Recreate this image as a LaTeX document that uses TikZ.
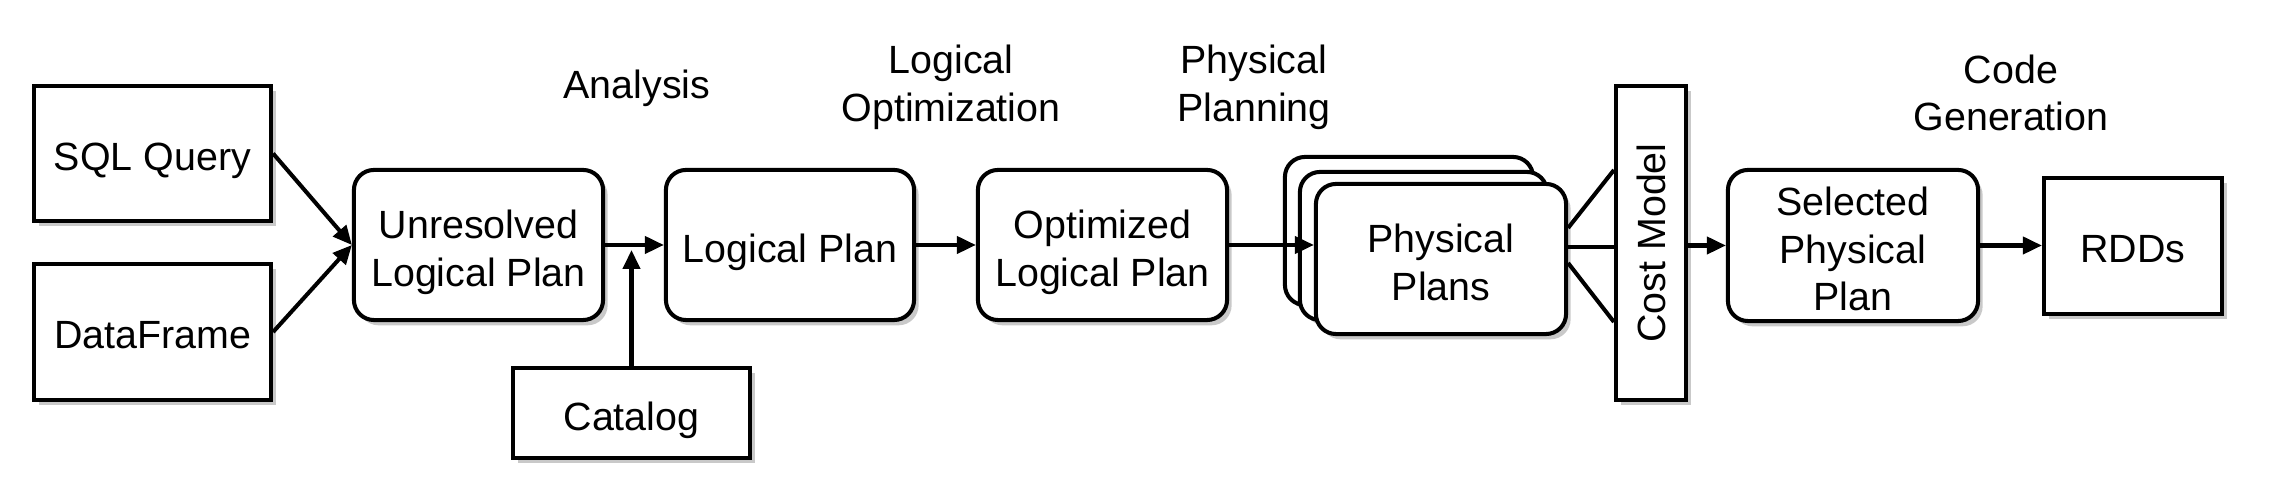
\documentclass[tikz,border=0pt]{standalone}
\usepackage{fontspec}
\setmainfont{Liberation Sans}
\usetikzlibrary{arrows.meta,shadows,calc}
\tikzset{
  base/.style={draw, line width=1.15pt, fill=white, inner sep=0pt,
    drop shadow={shadow xshift=1.3pt, shadow yshift=-1.5pt, opacity=0.3, fill=black!70}},
  sqbox/.style={base},
  rbox/.style={base, rounded corners=0.2cm},
  boxtext/.style={label={[lbl, yshift=-0.07cm]center:{#1}}},
  boxtextn/.style={label={[lbl, yshift=-0.035cm]center:{#1}}},
  arr/.style={line width=1.15pt, -{Triangle[length=0.19cm,width=0.17cm]}},
  ln/.style={line width=1.15pt},
  lbl/.style={align=center}
}
\begin{document}
\begin{tikzpicture}[x=0.01cm, y=-0.01cm, font=\fontsize{11.2}{13.6}\selectfont]
\useasboundingbox (0,0) rectangle (2274,486);
% input boxes
\node[sqbox, minimum width=2.37cm, minimum height=1.35cm, boxtext={SQL Query}] (sql) at (152.5,153.5) {};
\node[sqbox, minimum width=2.37cm, minimum height=1.36cm, boxtextn={DataFrame}] (df) at (152.5,332) {};
\node[rbox, minimum width=2.49cm, minimum height=1.50cm, boxtext={Unresolved\\Logical Plan}] (ur) at (478.5,245) {};
\node[rbox, minimum width=2.48cm, minimum height=1.50cm, boxtext={Logical Plan}] (lp) at (790,245) {};
\node[rbox, minimum width=2.49cm, minimum height=1.50cm, boxtext={Optimized\\Logical Plan}] (olp) at (1102.5,245) {};
\node[sqbox, minimum width=2.37cm, minimum height=0.90cm, boxtext={Catalog}] (cat) at (631.5,413) {};
% physical plans stack
\node[rbox, minimum width=2.48cm, minimum height=1.48cm] (pp3) at (1409,231) {};
\node[rbox, minimum width=2.47cm, minimum height=1.48cm] (pp2) at (1423.5,246) {};
\node[rbox, minimum width=2.50cm, minimum height=1.50cm, boxtextn={Physical\\Plans}] (pp) at (1441,259) {};
% cost model
\node[sqbox, minimum width=0.70cm, minimum height=3.14cm,
  label={[rotate=90]center:Cost Model}] (cm) at (1651,243) {};
\node[rbox, minimum width=2.50cm, minimum height=1.51cm, boxtextn={Selected\\Physical\\Plan}] (sel) at (1853,245.5) {};
\node[sqbox, minimum width=1.78cm, minimum height=1.36cm, boxtextn={RDDs}] (rdd) at (2133,246) {};
% phase labels
\node[lbl] (an) at (637,88) {Analysis};
\node[lbl] (lo) at (951,87) {Logical\\Optimization};
\node[lbl] (ph) at (1254,87) {Physical\\Planning};
\node[lbl] (cg) at (2011,93) {Code\\Generation};
% connectors
\draw[arr] (sql.east) -- (ur.west);
\draw[arr] (df.east) -- (ur.west);
\draw[arr] (ur.east) -- (lp.west);
\coordinate (catTip) at ($(cat.north |- ur.east)+(0,5)$);
\draw[arr] (cat.north) -- (catTip);
\draw[arr] (lp.east) -- (olp.west);
\draw[arr] (olp.east) -- (pp.west |- olp.east);
\draw[ln] ($(pp.east)+(0,-31)$) -- ($(cm.west)+(0,-73)$);
\draw[ln] ($(pp.east)+(0,-12)$) -- ($(cm.west)+(0,4)$);
\draw[ln] ($(pp.east)+(0,4)$) -- ($(cm.west)+(0,79)$);
\draw[arr] (cm.east |- sel.west) -- (sel.west);
\draw[arr] (sel.east) -- (rdd.west |- sel.east);
\end{tikzpicture}
\end{document}
